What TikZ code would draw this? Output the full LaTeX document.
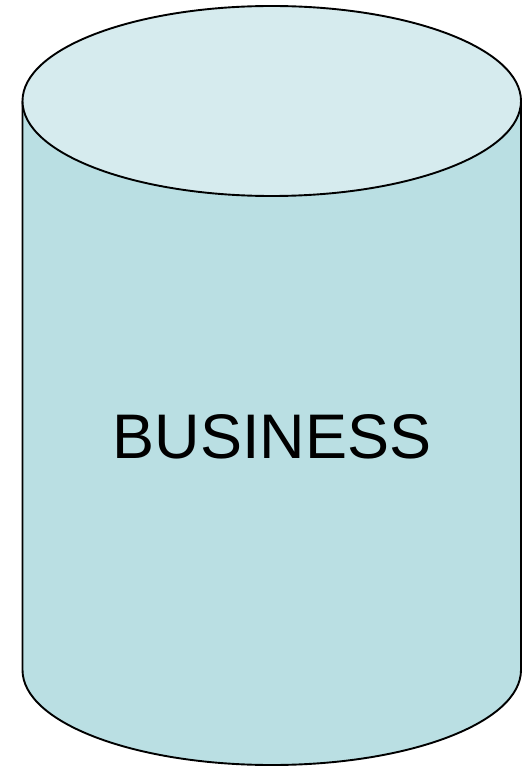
\documentclass[tikz,border=0pt]{standalone}
\usepackage{fontspec}
\setmainfont{Liberation Sans}
\usepackage{tikz}

\definecolor{bodyfill}{HTML}{BADFE3}
\definecolor{lidfill}{HTML}{D6EBEE}

\begin{document}
\begin{tikzpicture}[
    x=1pt, y=-1pt,
    outline/.style={draw=black, line width=1.9pt, line join=round},
    label/.style={font=\fontsize{63}{70}\selectfont, inner sep=0pt, anchor=base},
  ]
  \useasboundingbox (0,0) rectangle (527,767);
  % body of the drum
  \coordinate (topc) at (271.75,101);
  \coordinate (botc) at (271.75,670);
  \fill[bodyfill] (22.5,101) -- (22.5,670) arc[start angle=180, end angle=360, x radius=249.25, y radius=-95]
    -- (521,101) -- cycle;
  \draw[outline] (22.5,101) -- (22.5,670) arc[start angle=180, end angle=360, x radius=249.25, y radius=-95]
    -- (521,101);
  % lid
  \draw[outline, fill=lidfill] (topc) ellipse[x radius=249.25, y radius=95];
  \node[label] (name) at (272,458) {BUSINESS};
\end{tikzpicture}
\end{document}
